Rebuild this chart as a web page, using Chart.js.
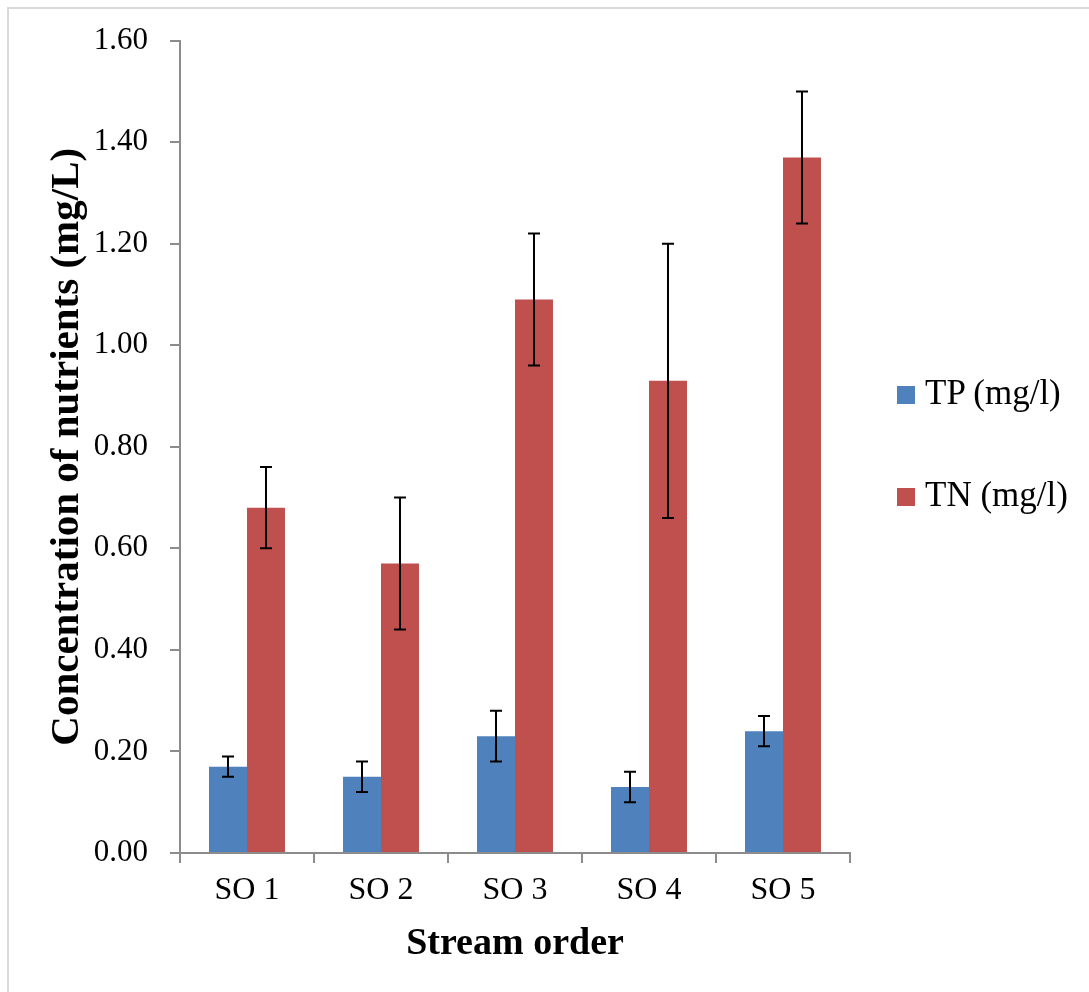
<!DOCTYPE html>
<html>
<head>
<meta charset="utf-8">
<script src="https://cdn.jsdelivr.net/npm/chart.js@4/dist/chart.umd.min.js"></script>
<style>
  html, body { margin: 0; padding: 0; background: #fff; }
  #wrap { position: relative; width: 1089px; height: 992px; overflow: hidden; }
  #frame { position: absolute; left: 7px; top: 7px; width: 1200px; height: 1200px;
           border-top: 2px solid #d9d9d9; border-left: 2px solid #d9d9d9; box-sizing: border-box; }
  canvas { position: absolute; left: 0; top: 0; }
  .leg { position: absolute; left: 897px; font-family: "Liberation Serif", serif; font-size: 35px;
         color: #000; white-space: nowrap; line-height: 1; }
  .leg span.box { display: inline-block; width: 18px; height: 18px; margin-right: 10px; vertical-align: 0px; }
</style>
</head>
<body>
<div id="wrap">
  <div id="frame"></div>
  <canvas id="c" width="1089" height="992"></canvas>
  <div class="leg" id="leg0" style="top:375px"><span class="box" style="background:#4F81BD"></span>TP (mg/l)</div>
  <div class="leg" id="leg1" style="top:477px"><span class="box" style="background:#C0504D"></span>TN (mg/l)</div>
</div>
<script>
const categories = ["SO 1", "SO 2", "SO 3", "SO 4", "SO 5"];
const seriesNames = ["TP (mg/l)", "TN (mg/l)"];
const tpValues = [0.17, 0.15, 0.23, 0.13, 0.24];
const tpLow    = [0.15, 0.12, 0.18, 0.10, 0.21];
const tpHigh   = [0.19, 0.18, 0.28, 0.16, 0.27];
const tnValues = [0.68, 0.57, 1.09, 0.93, 1.37];
const tnLow    = [0.60, 0.44, 0.96, 0.66, 1.24];
const tnHigh   = [0.76, 0.70, 1.22, 1.20, 1.50];
const yTicks = [0, 0.2, 0.4, 0.6, 0.8, 1.0, 1.2, 1.4, 1.6];

const errorBars = {
  id: 'errorBars',
  afterDatasetsDraw(chart) {
    const ctx = chart.ctx;
    const ys = chart.scales.y;
    chart.data.datasets.forEach((ds, di) => {
      const meta = chart.getDatasetMeta(di);
      meta.data.forEach((bar, i) => {
        const x = bar.x;
        const yl = ys.getPixelForValue(ds.errLow[i]);
        const yh = ys.getPixelForValue(ds.errHigh[i]);
        ctx.save();
        ctx.strokeStyle = '#000';
        ctx.lineWidth = 2;
        ctx.beginPath();
        ctx.moveTo(x, yl); ctx.lineTo(x, yh);
        ctx.moveTo(x - 6, yl); ctx.lineTo(x + 6, yl);
        ctx.moveTo(x - 6, yh); ctx.lineTo(x + 6, yh);
        ctx.stroke();
        ctx.restore();
      });
    });
  }
};

const serif = "'Liberation Serif', serif";
new Chart(document.getElementById('c'), {
  type: 'bar',
  data: {
    labels: categories,
    datasets: [
      { label: seriesNames[0], data: tpValues, errLow: tpLow, errHigh: tpHigh,
        backgroundColor: '#4F81BD', categoryPercentage: 0.567, barPercentage: 1.0 },
      { label: seriesNames[1], data: tnValues, errLow: tnLow, errHigh: tnHigh,
        backgroundColor: '#C0504D', categoryPercentage: 0.567, barPercentage: 1.0 }
    ]
  },
  options: {
    responsive: false,
    animation: false,
    layout: { padding: { left: 0, right: 239, top: 40, bottom: 0 } },
    plugins: { legend: { display: false }, tooltip: { enabled: false } },
    scales: {
      y: {
        min: 0, max: 1.6,
        afterBuildTicks(scale) { scale.ticks = yTicks.map(v => ({ value: v })); },
        afterFit(scale) { scale.width = 180; },
        ticks: { color: '#000', font: { family: serif, size: 31 }, padding: 22,
                 callback: v => Number(v).toFixed(2) },
        grid: { drawOnChartArea: false, drawTicks: true, tickLength: 10, color: '#8c8c8c', lineWidth: 2 },
        border: { color: '#8c8c8c', width: 2 },
        title: { display: true, text: 'Concentration of nutrients (mg/L)', color: '#000',
                 font: { family: serif, size: 41, weight: 'bold' }, padding: { top: 43, bottom: 0 } }
      },
      x: {
        afterFit(scale) { scale.height = 992 - 853; },
        ticks: { color: '#000', font: { family: serif, size: 32 }, padding: 8, maxRotation: 0 },
        grid: { drawOnChartArea: false, drawTicks: true, tickLength: 10, color: '#8c8c8c', lineWidth: 2, offset: true },
        border: { color: '#8c8c8c', width: 2 },
        title: { display: true, text: 'Stream order', color: '#000',
                 font: { family: serif, size: 38, weight: 'bold' }, padding: { top: 0, bottom: 25 } }
      }
    }
  },
  plugins: [errorBars]
});
</script>
</body>
</html>
